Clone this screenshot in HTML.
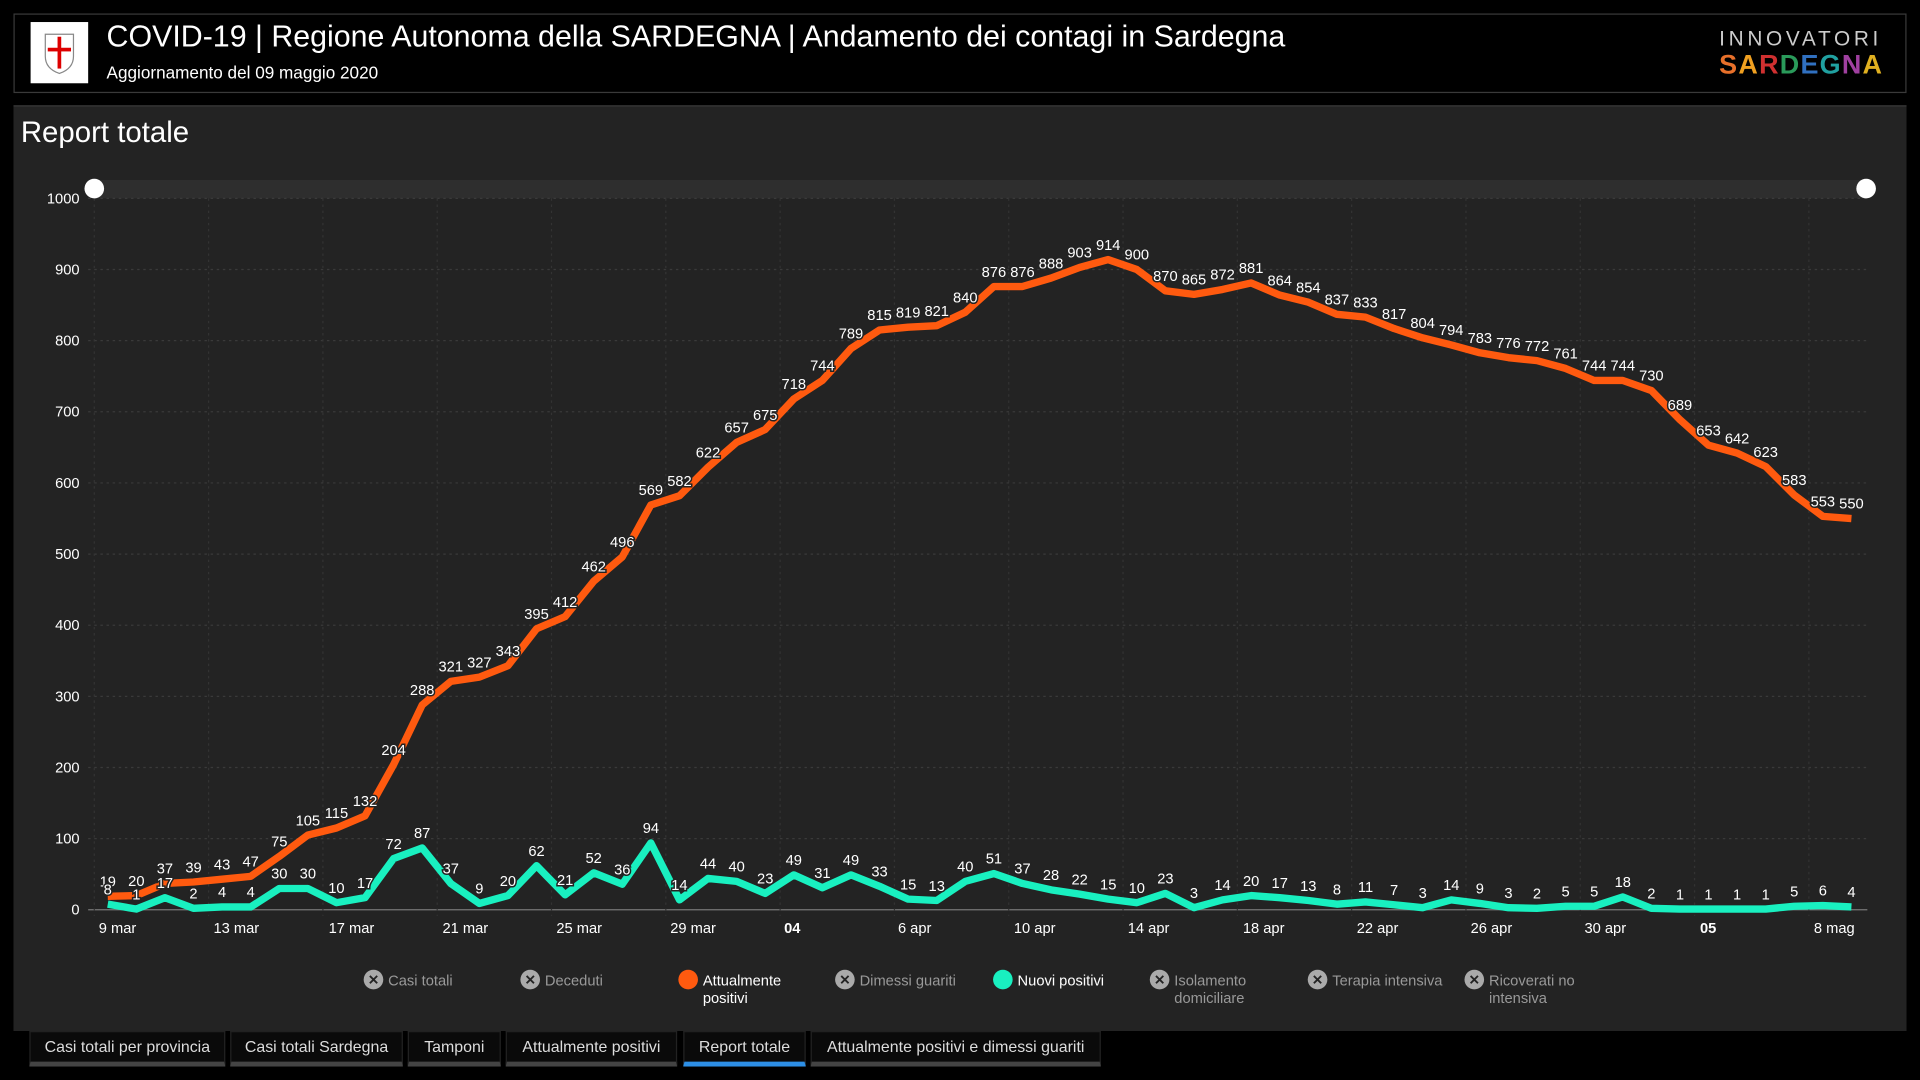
<!DOCTYPE html>
<html><head><meta charset="utf-8"><style>
html,body{margin:0;padding:0;background:#000;overflow:hidden;width:1920px;height:1080px}
#w{position:absolute;left:0;top:0;width:1568px;height:882px;transform:scale(1.22449);transform-origin:0 0;font-family:"Liberation Sans",sans-serif;color:#fff}
.hdr{position:absolute;left:11px;top:11px;width:1544px;height:63px;border:1px solid #3a3a3a;background:#000}
.panel{position:absolute;left:11px;top:86px;width:1546px;height:755px;background:#232323;border-top:1px solid #3a3a3a}
.tab{position:absolute;top:842px;height:24px;background:#0a0a0a;border:1px solid #222;border-bottom:4px solid #444;font-size:13px;color:#ddd;text-align:center;line-height:24px}
</style></head><body><div id="w">
<div class="hdr">
 <div style="position:absolute;left:13px;top:6px;width:47px;height:50px;background:#fff"></div>
 <svg style="position:absolute;left:13px;top:6px" width="47" height="50"><path d="M12 10h23v18q0 10-11.5 14q-11.5-4-11.5-14z" fill="#fff" stroke="#888"/><rect x="22" y="12" width="3" height="26" fill="#d00"/><rect x="14" y="21" width="19" height="3" fill="#d00"/></svg>
 <div style="position:absolute;left:75px;top:5px;font-size:24.8px;">COVID-19 | Regione Autonoma della SARDEGNA | Andamento dei contagi in Sardegna</div>
 <div style="position:absolute;left:75px;top:39px;font-size:14px;">Aggiornamento del 09 maggio 2020</div>
 <div style="position:absolute;left:1392px;top:10px;font-size:17px;letter-spacing:3px;color:#ccc">INNOVATORI</div>
 <div style="position:absolute;left:1392px;top:28px;font-size:22px;font-weight:bold;letter-spacing:1px"><span style="color:#e8702a">S</span><span style="color:#f0a020">A</span><span style="color:#d03030">R</span><span style="color:#2a9a5a">D</span><span style="color:#3070c0">E</span><span style="color:#20a0a0">G</span><span style="color:#a040a0">N</span><span style="color:#e0b020">A</span></div>
</div>
<div class="panel"><div style="position:absolute;left:6px;top:8px;font-size:24px">Report totale</div></div>
<svg id="c" style="position:absolute;left:0;top:0" width="1568" height="882"></svg>
<div class="tab" style="left:24px;width:158px">Casi totali per provincia</div>
<div class="tab" style="left:188px;width:139px">Casi totali Sardegna</div>
<div class="tab" style="left:333px;width:74px">Tamponi</div>
<div class="tab" style="left:413px;width:138px">Attualmente positivi</div>
<div class="tab" style="left:558px;width:98px;border-bottom-color:#2d8fe6">Report totale</div>
<div class="tab" style="left:662px;width:235px">Attualmente positivi e dimessi guariti</div>
</div>
<script>
var o=[19,20,37,39,43,47,75,105,115,132,204,288,321,327,343,395,412,462,496,569,582,622,657,675,718,744,789,815,819,821,840,876,876,888,903,914,900,870,865,872,881,864,854,837,833,817,804,794,783,776,772,761,744,744,730,689,653,642,623,583,553,550];
var g=[8,1,17,2,4,4,30,30,10,17,72,87,37,9,20,62,21,52,36,94,14,44,40,23,49,31,49,33,15,13,40,51,37,28,22,15,10,23,3,14,20,17,13,8,11,7,3,14,9,3,2,5,5,18,2,1,1,1,1,5,6,4];
function X(i){return 88+i*(1512-88)/61}function Y(v){return 743-v*0.581}
var s='';
s+='<rect x="77" y="147" width="1448" height="15" fill="#2e2e2e"/>';
for(var k=0;k<=10;k++){var y=Y(k*100);s+='<line x1="72" x2="1525" y1="'+y+'" y2="'+y+'" stroke="'+(k?'#3a3a3a':'#777')+'" stroke-dasharray="'+(k?'2 3':'0')+'"/>';s+='<text x="65" y="'+(y+4)+'" fill="#fff" font-size="12" text-anchor="end">'+(k*100)+'</text>';}
for(var i=0;i<16;i++){var x=77+i*93.35;s+='<line x1="'+x+'" x2="'+x+'" y1="162" y2="748" stroke="#333" stroke-dasharray="2 3"/>';}
var L=[[96,'9 mar'],[193,'13 mar'],[287,'17 mar'],[380,'21 mar'],[473,'25 mar'],[566,'29 mar'],[647,'04',1],[747,'6 apr'],[845,'10 apr'],[938,'14 apr'],[1032,'18 apr'],[1125,'22 apr'],[1218,'26 apr'],[1311,'30 apr'],[1395,'05',1],[1498,'8 mag']];
L.forEach(function(l){s+='<text x="'+l[0]+'" y="762" fill="#fff" font-size="12" text-anchor="middle"'+(l[2]?' font-weight="bold"':'')+'>'+l[1]+'</text>'});
function line(a,c){return '<polyline fill="none" stroke="'+c+'" stroke-width="6" stroke-linejoin="round" points="'+a.map(function(v,i){return X(i).toFixed(1)+','+Y(v).toFixed(1)}).join(' ')+'"/>'}
s+=line(o,'#ff5a0f')+line(g,'#19f0c0');
function lab(a){a.forEach(function(v,i){s+='<text x="'+X(i)+'" y="'+(Y(v)-8)+'" fill="#fff" font-size="12" text-anchor="middle" stroke="#232323" stroke-width="2.5" paint-order="stroke">'+v+'</text>'})}
lab(o);lab(g);
s+='<circle cx="77" cy="154" r="8" fill="#fff"/><circle cx="1524" cy="154" r="8" fill="#fff"/>';
var lg=[[305,'Casi totali',0],[433,'Deceduti',0],[562,'Attualmente|positivi','#ff5a0f'],[690,'Dimessi guariti',0],[819,'Nuovi positivi','#19f0c0'],[947,'Isolamento|domiciliare',0],[1076,'Terapia intensiva',0],[1204,'Ricoverati no|intensiva',0]];
lg.forEach(function(l){s+='<circle cx="'+l[0]+'" cy="800" r="8" fill="'+(l[2]||'#aaa')+'"/>';if(!l[2])s+='<text x="'+l[0]+'" y="804" font-size="11" fill="#232323" text-anchor="middle" font-weight="bold">✕</text>';var t=l[1].split('|');t.forEach(function(tt,j){s+='<text x="'+(l[0]+12)+'" y="'+(805+j*14)+'" font-size="12" fill="'+(l[2]?'#fff':'#999')+'">'+tt+'</text>'})});
document.getElementById('c').innerHTML=s;
</script>
</body></html>
